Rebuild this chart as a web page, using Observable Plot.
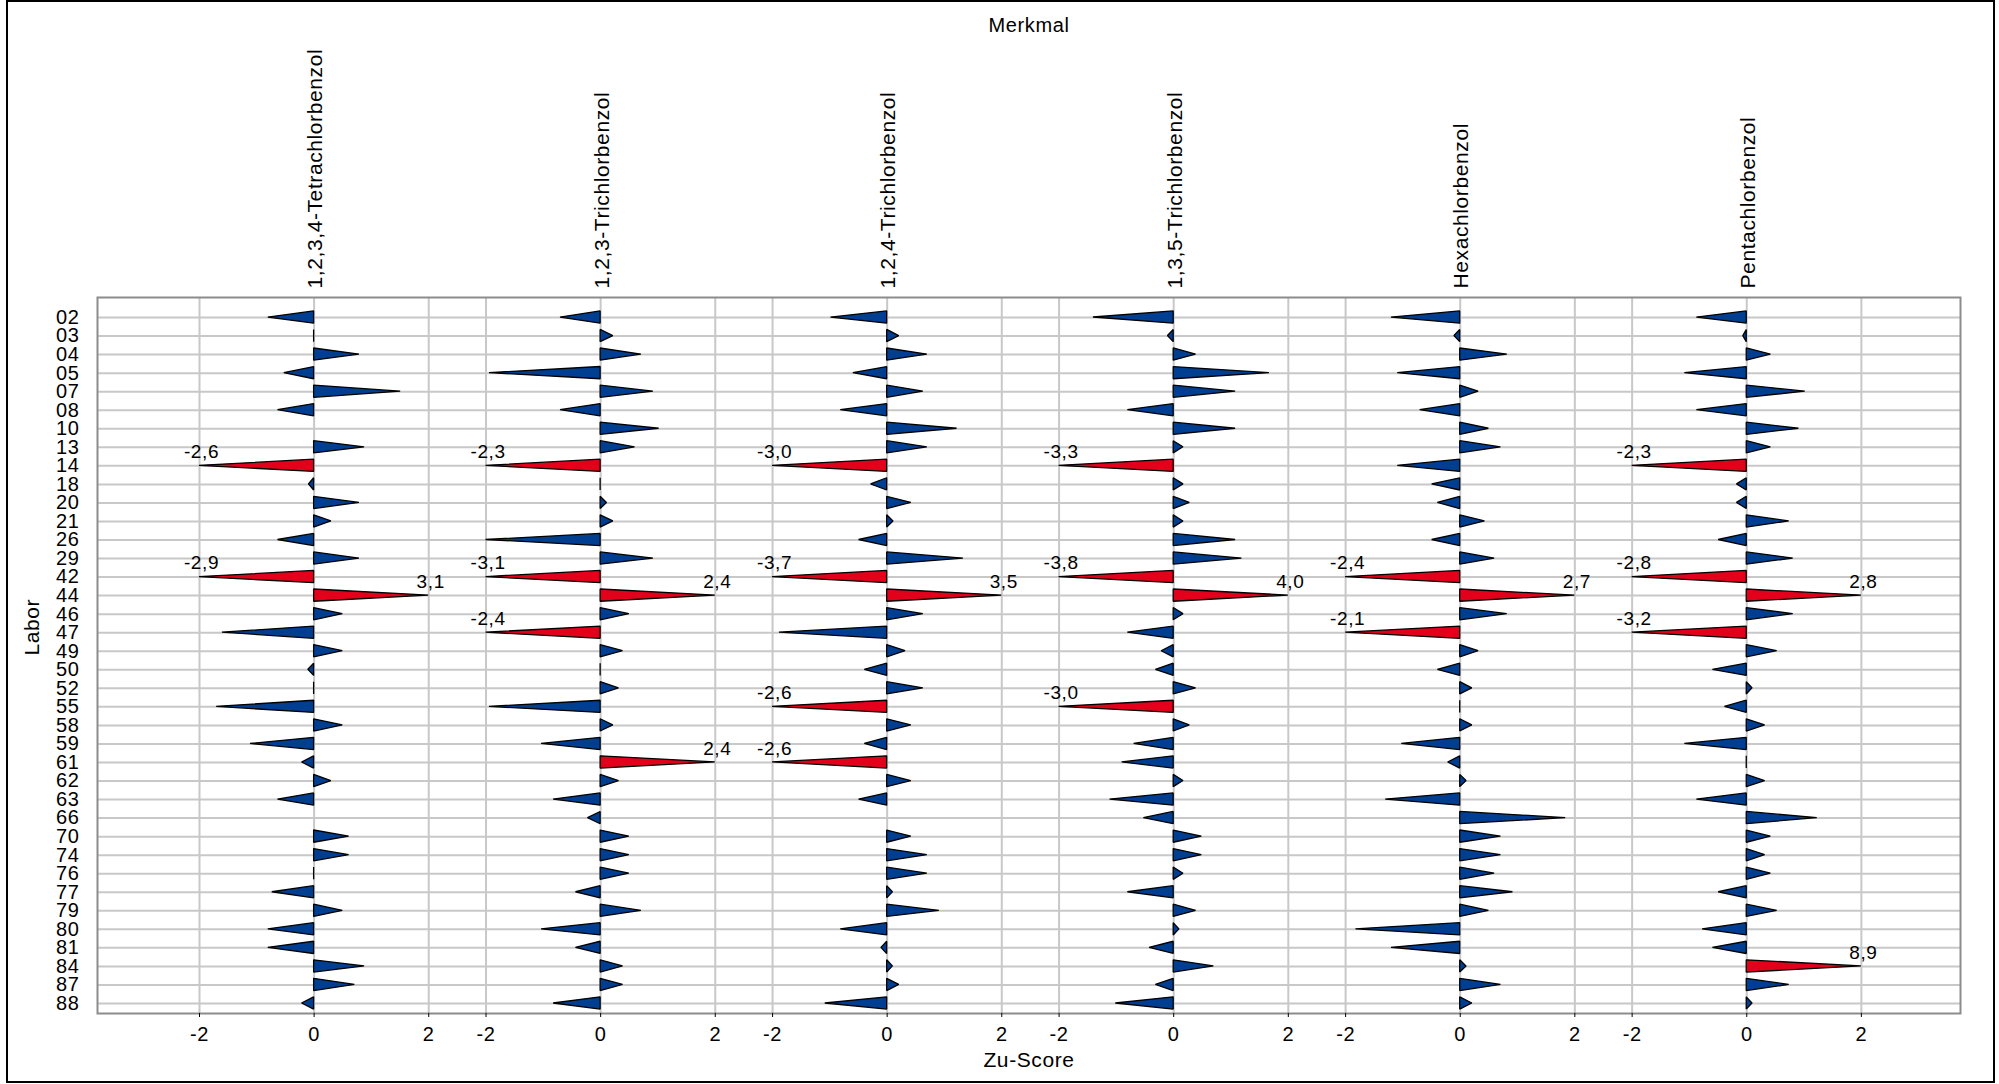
<!DOCTYPE html>
<html><head><meta charset="utf-8">
<script src="https://cdn.jsdelivr.net/npm/d3@7"></script>
<script src="https://cdn.jsdelivr.net/npm/@observablehq/plot@0.6"></script>
<style>
body{margin:0;background:#fff;}
#wrap{position:relative;width:1999px;height:1084px;overflow:hidden;}
#border{position:absolute;left:6px;top:0px;width:1985px;height:1079px;border:2px solid #000;pointer-events:none;}
svg{font-family:"Liberation Sans",Arial,sans-serif;}
svg text{letter-spacing:0.6px;}
</style></head><body><div id="wrap"><div id="border"></div></div>
<script>
const labs = ["02","03","04","05","07","08","10","13","14","18","20","21","26","29","42","44","46","47","49","50","52","55","58","59","61","62","63","66","70","74","76","77","79","80","81","84","87","88"];
const merkmale = ["1,2,3,4-Tetrachlorbenzol","1,2,3-Trichlorbenzol","1,2,4-Trichlorbenzol","1,3,5-Trichlorbenzol","Hexachlorbenzol","Pentachlorbenzol"];
const tetrachlor1234 = [-0.80,0.0,0.79,-0.52,1.51,-0.63,null,0.88,-2.6,-0.09,0.79,0.30,-0.63,0.79,-2.9,3.1,0.50,-1.60,0.50,-0.10,0.0,-1.70,0.50,-1.11,-0.21,0.30,-0.63,null,0.61,0.61,0.0,-0.73,0.50,-0.80,-0.80,0.88,0.71,-0.21];
const trichlor123 = [-0.70,0.22,0.71,-1.94,0.92,-0.70,1.02,0.60,-2.3,0.0,0.11,0.22,-2.0,0.92,-3.1,2.4,0.50,-2.4,0.39,0.0,0.32,-1.94,0.22,-1.03,2.4,0.32,-0.82,-0.22,0.50,0.50,0.50,-0.43,0.71,-1.03,-0.43,0.39,0.39,-0.82];
const trichlor124 = [-0.98,0.21,0.70,-0.59,0.63,-0.81,1.22,0.70,-3.0,-0.28,0.42,0.11,-0.49,1.33,-3.7,3.5,0.63,-1.88,0.32,-0.39,0.63,-2.6,0.42,-0.39,-2.6,0.42,-0.49,null,0.42,0.70,0.70,0.10,0.91,-0.81,-0.10,0.10,0.21,-1.08];
const trichlor135 = [-1.40,-0.10,0.39,1.67,1.08,-0.80,1.08,0.17,-3.3,0.17,0.28,0.17,1.08,1.19,-3.8,4.0,0.17,-0.80,-0.21,-0.31,0.39,-3.0,0.28,-0.69,-0.90,0.17,-1.11,-0.52,0.49,0.49,0.17,-0.80,0.39,0.10,-0.42,0.70,-0.31,-1.01];
const hexachlor = [-1.20,-0.10,0.82,-1.09,0.32,-0.70,0.50,0.71,-1.09,-0.49,-0.39,0.43,-0.49,0.60,-2.4,2.7,0.82,-2.1,0.32,-0.39,0.21,0.0,0.21,-1.02,-0.21,0.11,-1.30,1.84,0.71,0.71,0.60,0.92,0.50,-1.82,-1.20,0.11,0.71,0.21];
const pentachlor = [-0.87,-0.06,0.42,-1.08,1.02,-0.87,0.91,0.42,-2.3,-0.17,-0.17,0.74,-0.49,0.81,-2.8,2.8,0.81,-3.2,0.53,-0.59,0.10,-0.38,0.32,-1.08,0.0,0.32,-0.87,1.23,0.42,0.32,0.42,-0.49,0.53,-0.77,-0.59,8.9,0.74,0.10];
const tickValues = [-2, 0, 2];

const series = [tetrachlor1234, trichlor123, trichlor124, trichlor135, hexachlor, pentachlor];
const PANEL = 5;      // x offset between panels (z units)
const LIMIT = 2;      // clip limit
const HALF = 0.33;    // half height of triangle base (rows)

// build triangle outline points and labels from the arrays
const tri = [];
const labels = [];
series.forEach((vals, i) => {
  vals.forEach((v, j) => {
    if (v == null) return;
    const c = Math.max(-LIMIT, Math.min(LIMIT, v));
    const out = Math.abs(v) > LIMIT;
    const key = i + "-" + j;
    tri.push({key, out, y: j - HALF, x1: PANEL * i, x2: PANEL * i});
    tri.push({key, out, y: j, x1: PANEL * i, x2: PANEL * i + c});
    tri.push({key, out, y: j + HALF, x1: PANEL * i, x2: PANEL * i});
    if (out) labels.push({x: PANEL * i + c, y: j, text: v.toFixed(1).replace(".", ",")});
  });
});
const xTicks = [];
merkmale.forEach((m, i) => tickValues.forEach(t => xTicks.push(PANEL * i + t)));
const fmtX = d => { const v = Math.round(d - PANEL * Math.round(d / PANEL)); return String(v); };
const rows = labs.map((l, j) => j);

const xDomain = [-3.78, PANEL * 5 + 3.73];
const chart = Plot.plot({
  width: 1999,
  height: 1084,
  marginTop: 297,
  marginBottom: 71,
  marginLeft: 97,
  marginRight: 39,
  style: {fontFamily: "'Liberation Sans', Arial, sans-serif", fontSize: "18px", background: "#fff"},
  x: {domain: xDomain, ticks: xTicks, tickFormat: fmtX, label: null},
  y: {domain: [37.54, -1.08], ticks: rows, tickFormat: j => labs[j], label: null},
  marks: [
    Plot.ruleY(rows, {y: d => d, stroke: "#c8c8c8", strokeWidth: 2, strokeOpacity: 1}),
    Plot.ruleX(xTicks, {x: d => d, stroke: "#c8c8c8", strokeWidth: 2, strokeOpacity: 1}),
    Plot.frame({stroke: "#8c8c8c", strokeWidth: 2}),
    Plot.axisX({ticks: xTicks, tickFormat: fmtX, tickSize: 4, tickPadding: 9, fontSize: 20, label: null}),
    Plot.axisY({ticks: rows, tickFormat: j => labs[j], tickSize: 0, tickPadding: 18, fontSize: 20, label: null}),
    Plot.areaX(tri.filter(d => !d.out), {x1: "x1", x2: "x2", y: "y", z: "key", fill: "#003e92", stroke: "#000", strokeWidth: 1.3, strokeLinejoin: "miter"}),
    Plot.areaX(tri.filter(d => d.out), {x1: "x1", x2: "x2", y: "y", z: "key", fill: "#e2001a", stroke: "#000", strokeWidth: 1.3, strokeLinejoin: "miter"}),
    Plot.text(labels, {x: "x", y: "y", text: "text", dy: -14, dx: 2, fontSize: 19, fill: "#000"}),
    Plot.text(merkmale, {x: (d, i) => PANEL * i, frameAnchor: "top", text: d => d, rotate: -90, textAnchor: "start", dy: -9, dx: -7, fontSize: 21, fill: "#000"}),
    Plot.text(["Merkmal"], {x: (xDomain[0] + xDomain[1]) / 2, frameAnchor: "top", text: d => d, dy: -280, fontSize: 20, fill: "#000"}),
    Plot.text(["Zu-Score"], {x: (xDomain[0] + xDomain[1]) / 2, frameAnchor: "bottom", text: d => d, dy: 53, fontSize: 21, fill: "#000"}),
    Plot.text(["Labor"], {frameAnchor: "left", text: d => d, rotate: -90, dx: -65, fontSize: 21, fill: "#000"})
  ]
});
document.getElementById("wrap").prepend(chart);
</script>
</body></html>
